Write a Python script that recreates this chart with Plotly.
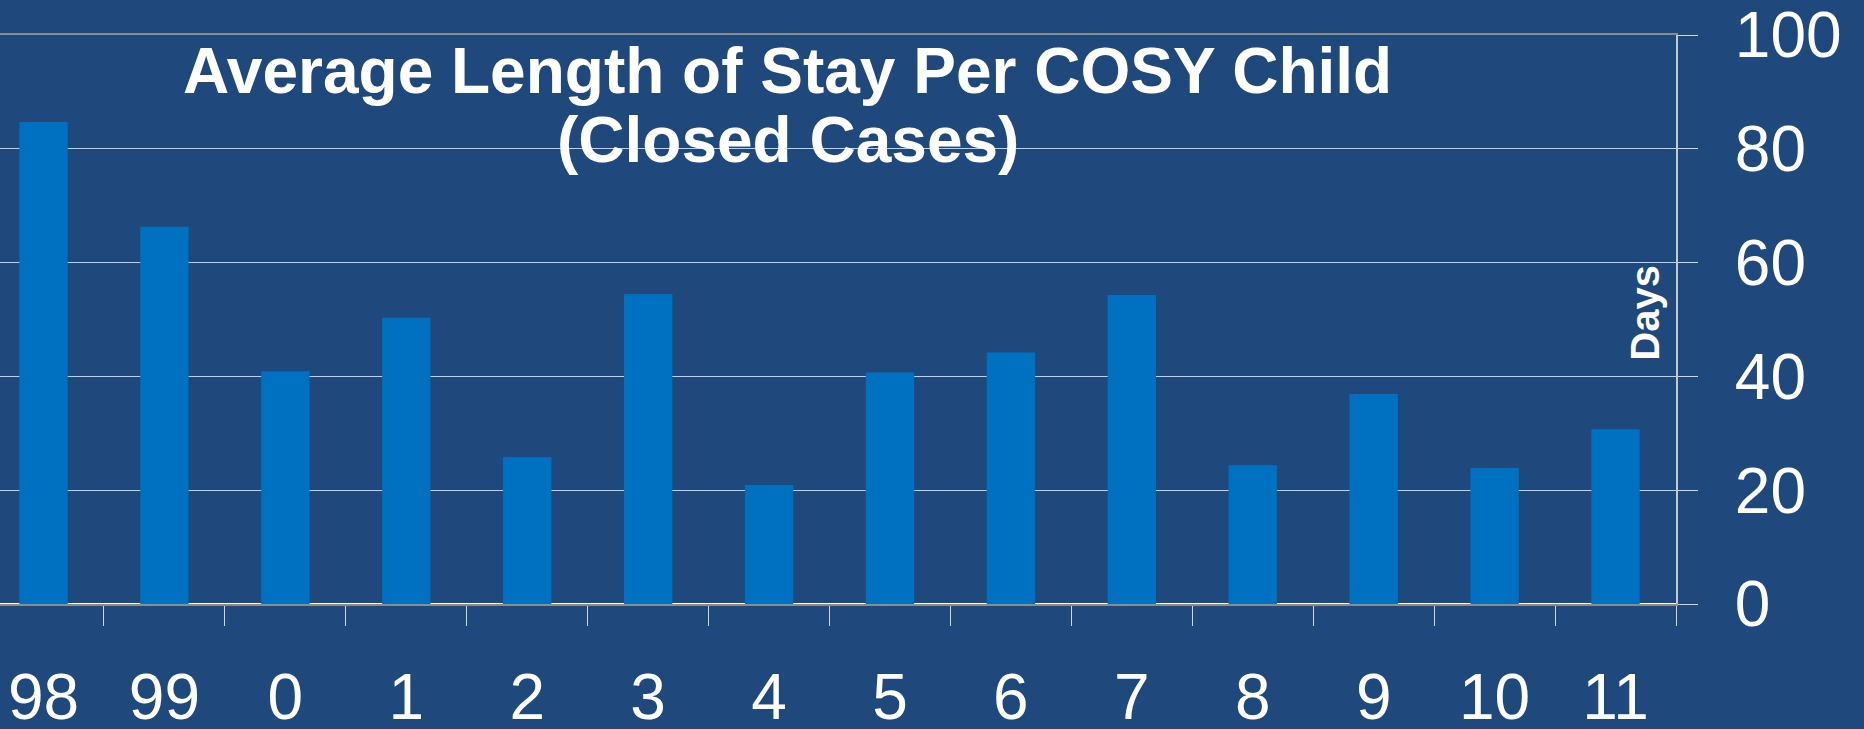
import plotly.graph_objects as go

# ---- data ----
years = ["98", "99", "0", "1", "2", "3", "4", "5", "6", "7", "8", "9", "10", "11"]
avg_days = [84.7, 66.3, 40.9, 50.3, 25.8, 54.5, 20.9, 40.7, 44.2, 54.3, 24.4, 36.9, 23.9, 30.7]
y_ticks = [0, 20, 40, 60, 80, 100]
title_line1 = "Average Length of Stay Per COSY Child"
title_line2 = "(Closed Cases)"
y_label = "Days"

BG = "#1F497D"
BAR = "#0070C0"
FONT = "Liberation Sans, Arial, sans-serif"

fig = go.Figure(
    go.Bar(x=years, y=avg_days, marker=dict(color=BAR, line=dict(width=0)), width=0.4)
)

fig.update_layout(
    width=1864,
    height=729,
    paper_bgcolor=BG,
    plot_bgcolor=BG,
    margin=dict(l=0, r=188, t=35, b=125, autoexpand=False),
    showlegend=False,
    font=dict(family=FONT, color="white"),
)

fig.update_xaxes(
    type="category",
    range=[-0.36, 13.5],
    tickson="boundaries",
    ticks="outside",
    ticklen=20,
    tickwidth=1,
    tickcolor="#D0D8E8",
    tickfont=dict(family=FONT, size=64, color="white"),
    ticklabelstandoff=36,
    automargin=False,
    showline=True,
    linecolor="#8C8C8C",
    linewidth=2,
    mirror=True,
    showgrid=False,
    zeroline=False,
)

fig.update_yaxes(
    side="right",
    range=[0, 100],
    tickvals=y_ticks,
    ticks="outside",
    ticklen=20,
    tickwidth=1,
    tickcolor="#D0D8E8",
    tickfont=dict(family=FONT, size=64, color="white"),
    ticklabelstandoff=24,
    ticklabeloverflow="allow",
    automargin=False,
    showline=True,
    linecolor="#C8C8C8",
    linewidth=2,
    showgrid=True,
    gridcolor="#C6D0E4",
    gridwidth=1,
    zeroline=True,
    zerolinecolor="#FFFFFF",
    zerolinewidth=2,
)

fig.add_annotation(
    text=title_line1, xref="paper", yref="y", x=0.470, y=93.6,
    xanchor="center", yanchor="middle", showarrow=False,
    font=dict(family=FONT, size=64, color="white", weight="bold"),
)
fig.add_annotation(
    text=title_line2, xref="paper", yref="y", x=0.470, y=81.5,
    xanchor="center", yanchor="middle", showarrow=False,
    font=dict(family=FONT, size=64, color="white", weight="bold"),
)
fig.add_annotation(
    text=y_label, xref="paper", yref="y", x=0.9815, y=51.2,
    xanchor="center", yanchor="middle", showarrow=False, textangle=-90,
    font=dict(family=FONT, size=40, color="white", weight="bold"),
)

fig.write_html(
    "out.html",
    config={"displayModeBar": False},
    post_script="document.body.style.margin='0';document.body.style.background='" + BG + "';",
)
